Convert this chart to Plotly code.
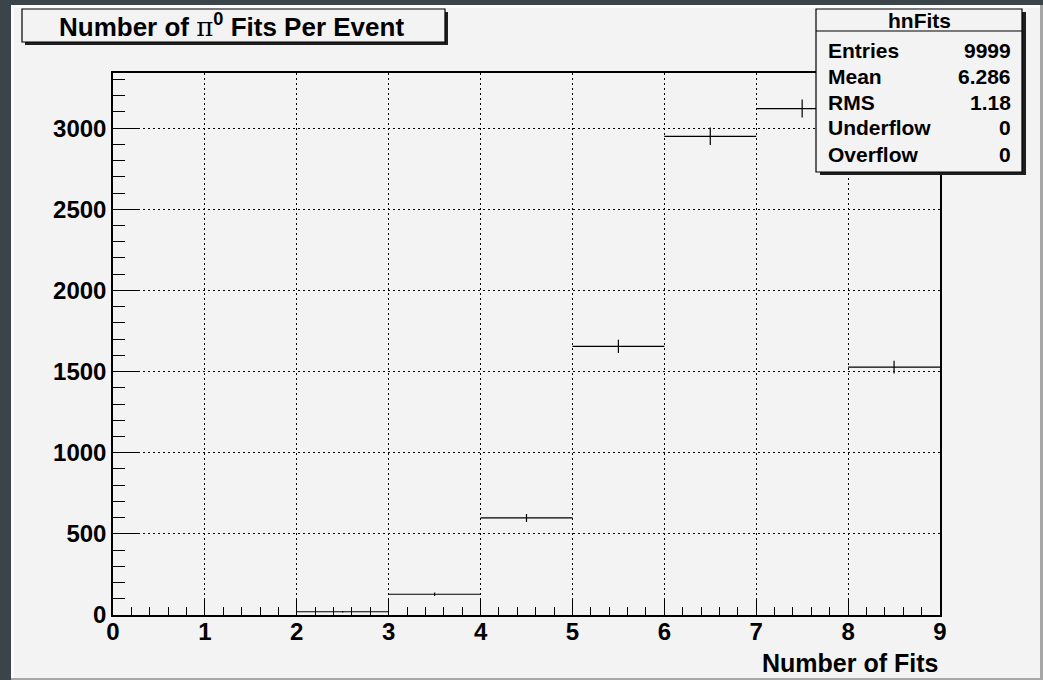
import numpy as np
import plotly.graph_objects as go

# ---- data ----
bin_low = [2, 3, 4, 5, 6, 7, 8]
counts = [20, 128, 598, 1655, 2950, 3121, 1527]
bin_width = 1.0
x_tick_vals = [0, 1, 2, 3, 4, 5, 6, 7, 8, 9]
y_tick_vals = [0, 500, 1000, 1500, 2000, 2500, 3000]
stats_labels = ["Entries", "Mean", "RMS", "Underflow", "Overflow"]
stats_values = ["9999", "6.286", "1.18", "0", "0"]
hist_name = "hnFits"
title_text = "Number of <span style='font-family:\"DejaVu Serif\"; font-weight:normal'>π</span><sup>0</sup> Fits Per Event"
x_title = "Number of Fits"

W, H = 1043, 680
L, R, T, B = 113, 940, 73, 615
PW, PH = R - L, B - T


def px(x):
    return (x - L) / PW


def py(y):
    return (B - y) / PH


centers = [b + bin_width / 2 for b in bin_low]
errs = [float(np.sqrt(c)) for c in counts]

light = "#f3f3f3"
dark = "#3b4449"
FONT = "Liberation Sans"

fig = go.Figure()
fig.add_trace(go.Scatter(
    x=centers, y=counts, mode="markers",
    marker=dict(size=1, color="black", opacity=0),
    error_x=dict(type="constant", value=bin_width / 2, width=0, thickness=1.2, color="black"),
    error_y=dict(type="data", array=errs, width=0, thickness=1.2, color="black"),
    showlegend=False, hoverinfo="skip", cliponaxis=False,
))

shapes = []


def rect(x0, y0, x1, y1, fill, line_color=None, lw=0, layer="above"):
    shapes.append(dict(type="rect", xref="paper", yref="paper",
                       x0=px(x0), x1=px(x1), y0=py(y1), y1=py(y0),
                       fillcolor=fill, layer=layer,
                       line=dict(color=line_color or fill, width=lw)))


# canvas background with bevel
rect(11, 5, 1043, 680, "#a6a6a6", layer="below")
rect(11, 5, 1040, 678, "#fbfbfb", layer="below")
rect(14, 8, 1040, 678, light, layer="below")

# title box
rect(25, 12, 448, 45, "#1e1e1e")
rect(22, 9, 445, 42, light, "black", 1.2)

# stats box
rect(820, 12, 1026, 175, "#1e1e1e")
rect(816, 9, 1022, 172, light, "black", 1.2)
shapes.append(dict(type="line", xref="paper", yref="paper",
                   x0=px(816), x1=px(1022), y0=py(31), y1=py(31),
                   line=dict(color="black", width=1.2), layer="above"))

annotations = []
annotations.append(dict(text=title_text, x=px(231), y=py(25), xref="paper", yref="paper",
                        xanchor="center", yanchor="middle", showarrow=False,
                        font=dict(family=FONT, size=26, color="black", weight="bold")))
annotations.append(dict(text=hist_name, x=px(919), y=py(20), xref="paper", yref="paper",
                        xanchor="center", yanchor="middle", showarrow=False,
                        font=dict(family=FONT, size=21, color="black", weight="bold")))
row_y = [50, 76, 102, 128, 154]
for lab, val, yy in zip(stats_labels, stats_values, row_y):
    annotations.append(dict(text=lab, x=px(826), y=py(yy), xref="paper", yref="paper",
                            xanchor="left", yanchor="middle", showarrow=False,
                            font=dict(family=FONT, size=21, color="black", weight="bold")))
    annotations.append(dict(text=val, x=px(1013), y=py(yy), xref="paper", yref="paper",
                            xanchor="right", yanchor="middle", showarrow=False,
                            font=dict(family=FONT, size=21, color="black", weight="bold")))
annotations.append(dict(text=x_title, x=px(940), y=py(663), xref="paper", yref="paper",
                        xanchor="right", yanchor="middle", showarrow=False,
                        font=dict(family=FONT, size=25, color="black", weight="bold")))

fig.update_layout(
    width=W, height=H,
    margin=dict(l=L, r=W - R, t=T, b=H - B, pad=0),
    paper_bgcolor=dark, plot_bgcolor=light,
    shapes=shapes, annotations=annotations,
    showlegend=False,
)

fig.update_xaxes(
    range=[0, 9], tickvals=x_tick_vals, ticktext=[str(v) for v in x_tick_vals],
    ticks="inside", ticklen=16, tickwidth=1.2, tickcolor="black",
    minor=dict(dtick=0.2, ticks="inside", ticklen=8, tickwidth=1.2, tickcolor="black", showgrid=False),
    showline=True, linecolor="black", linewidth=1.5, mirror=True,
    showgrid=True, gridcolor="black", gridwidth=1, griddash="2px,3px",
    zeroline=False,
    tickfont=dict(family=FONT, size=24, color="black", weight="bold"),
    ticklabelstandoff=-6,
)
fig.update_yaxes(
    range=[0, 3340], tickvals=y_tick_vals, ticktext=[str(v) for v in y_tick_vals],
    ticks="inside", ticklen=25, tickwidth=1.2, tickcolor="black",
    minor=dict(dtick=100, ticks="inside", ticklen=12, tickwidth=1.2, tickcolor="black", showgrid=False),
    showline=True, linecolor="black", linewidth=1.5, mirror=True,
    showgrid=True, gridcolor="black", gridwidth=1, griddash="2px,3px",
    zeroline=False,
    tickfont=dict(family=FONT, size=24, color="black", weight="bold"),
    ticklabelstandoff=0,
)

fig.write_html("out.html")
